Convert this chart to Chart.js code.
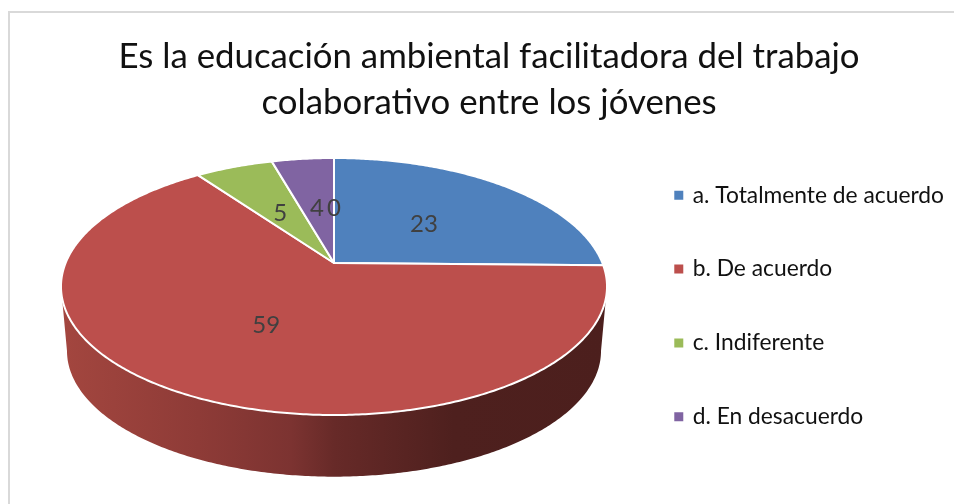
<!DOCTYPE html>
<html>
<head>
<meta charset="utf-8">
<script src="https://cdn.jsdelivr.net/npm/chart.js@4"></script>
<style>
  html, body { margin: 0; background: #fff; overflow: hidden; }
  #frame { position: absolute; left: 8px; top: 11px; width: 960px; height: 510px; border: 2px solid #d9d9d9; }
  canvas { position: absolute; left: 0; top: 0; }
</style>
</head>
<body>
<div id="frame"></div>
<canvas id="grafico" width="954" height="504"></canvas>
<script>
const categorias = ["a. Totalmente de acuerdo", "b. De acuerdo", "c. Indiferente", "d. En desacuerdo", "e."];
const valores = [23, 59, 5, 4, 0];
const colores = ["#4f81bd", "#bc4f4c", "#9bbb59", "#8064a2", "#4bacc6"];
const titulo = ["Es la educación ambiental facilitadora del trabajo", "colaborativo entre los jóvenes"];

// proyeccion en perspectiva de la tarta (el vertice no cae en el centro de la elipse)
const CX = 334, CY = 263, RX = 268.4, RY = 124.2, K = 0.183;
const ALTO = 65, ESCALA_BASE = 0.978;

function proyectar(ang, r, base) {
  const X = Math.cos(ang) * r, Y = Math.sin(ang) * r;
  const w = 1 - K * Y;
  const s = base ? ESCALA_BASE : 1;
  return { x: CX + s * RX * X / w, y: CY + (base ? ALTO : 0) + s * RY * Y / w };
}

function pasos(a0, a1) {
  return Math.max(2, Math.ceil(Math.abs(a1 - a0) / 0.01));
}

const tarta3d = {
  id: "tarta3d",
  // la leyenda va mas abajo de lo que deja el layout
  afterLayout(chart) {
    chart.legend.top += 48;
    chart.legend.bottom += 48;
    chart.legend.left += 2;
    chart.legend.right += 2;
  },
  beforeDatasetDraw(chart, args) {
    const ctx = chart.ctx;
    const arcos = chart.getDatasetMeta(args.index).data;
    ctx.save();

    // pared lateral, solo el tramo visible de frente
    const ini = 10.5 * Math.PI / 180, fin = 169.5 * Math.PI / 180;
    arcos.forEach((arco) => {
      const a0 = Math.max(arco.startAngle, ini), a1 = Math.min(arco.endAngle, fin);
      if (a1 <= a0) return;
      const grad = ctx.createLinearGradient(63, 0, 606, 0);
      grad.addColorStop(0, "#a3463f");
      grad.addColorStop(0.25, "#8e3b37");
      grad.addColorStop(0.42, "#7c3331");
      grad.addColorStop(0.5, "#672a28");
      grad.addColorStop(0.72, "#4e201e");
      grad.addColorStop(1, "#4c1f1d");
      ctx.beginPath();
      const n = pasos(a0, a1);
      for (let i = 0; i <= n; i++) {
        const p = proyectar(a0 + (a1 - a0) * i / n, 1, false);
        i ? ctx.lineTo(p.x, p.y) : ctx.moveTo(p.x, p.y);
      }
      for (let i = n; i >= 0; i--) {
        const p = proyectar(a0 + (a1 - a0) * i / n, 1, true);
        ctx.lineTo(p.x, p.y);
      }
      ctx.closePath();
      ctx.fillStyle = grad;
      ctx.fill();
    });

    // cara superior
    arcos.forEach((arco, i) => {
      if (arco.endAngle - arco.startAngle <= 0) return;
      const n = pasos(arco.startAngle, arco.endAngle);
      ctx.beginPath();
      ctx.moveTo(CX, CY);
      for (let j = 0; j <= n; j++) {
        const p = proyectar(arco.startAngle + (arco.endAngle - arco.startAngle) * j / n, 1, false);
        ctx.lineTo(p.x, p.y);
      }
      ctx.closePath();
      ctx.fillStyle = colores[i];
      ctx.fill();
      ctx.strokeStyle = "#fff";
      ctx.lineWidth = 2;
      ctx.lineJoin = "round";
      ctx.stroke();
    });

    // etiquetas de valor
    ctx.font = "24px Lato";
    ctx.fillStyle = "#404040";
    ctx.textAlign = "center";
    ctx.textBaseline = "middle";
    arcos.forEach((arco, i) => {
      const p = proyectar((arco.startAngle + arco.endAngle) / 2, 0.5, false);
      ctx.fillText(String(valores[i]), p.x, p.y + 2);
    });

    ctx.restore();
    return false;
  },
};

new Chart(document.getElementById("grafico"), {
  type: "pie",
  data: {
    labels: categorias,
    datasets: [{ data: valores, backgroundColor: colores, borderWidth: 0 }],
  },
  options: {
    responsive: false,
    animation: false,
    layout: { padding: { left: 26, right: 2, top: 34, bottom: 22 } },
    plugins: {
      tooltip: { enabled: false },
      title: {
        display: true,
        text: titulo,
        color: "#111",
        font: { family: "Lato", size: 34.8, weight: "normal", lineHeight: 1.32 },
        padding: { top: 0, bottom: 20 },
      },
      legend: {
        position: "right",
        labels: {
          color: "#111",
          font: { family: "Lato", size: 22.8 },
          boxWidth: 5,
          boxHeight: 5,
          padding: 51,
          filter: (item) => item.index < 4,
          generateLabels(chart) {
            return Chart.overrides.pie.plugins.legend.labels.generateLabels(chart).map((item) => {
              item.strokeStyle = item.fillStyle;
              item.lineWidth = 4;
              return item;
            });
          },
        },
      },
    },
  },
  plugins: [tarta3d],
});
</script>
</body>
</html>
